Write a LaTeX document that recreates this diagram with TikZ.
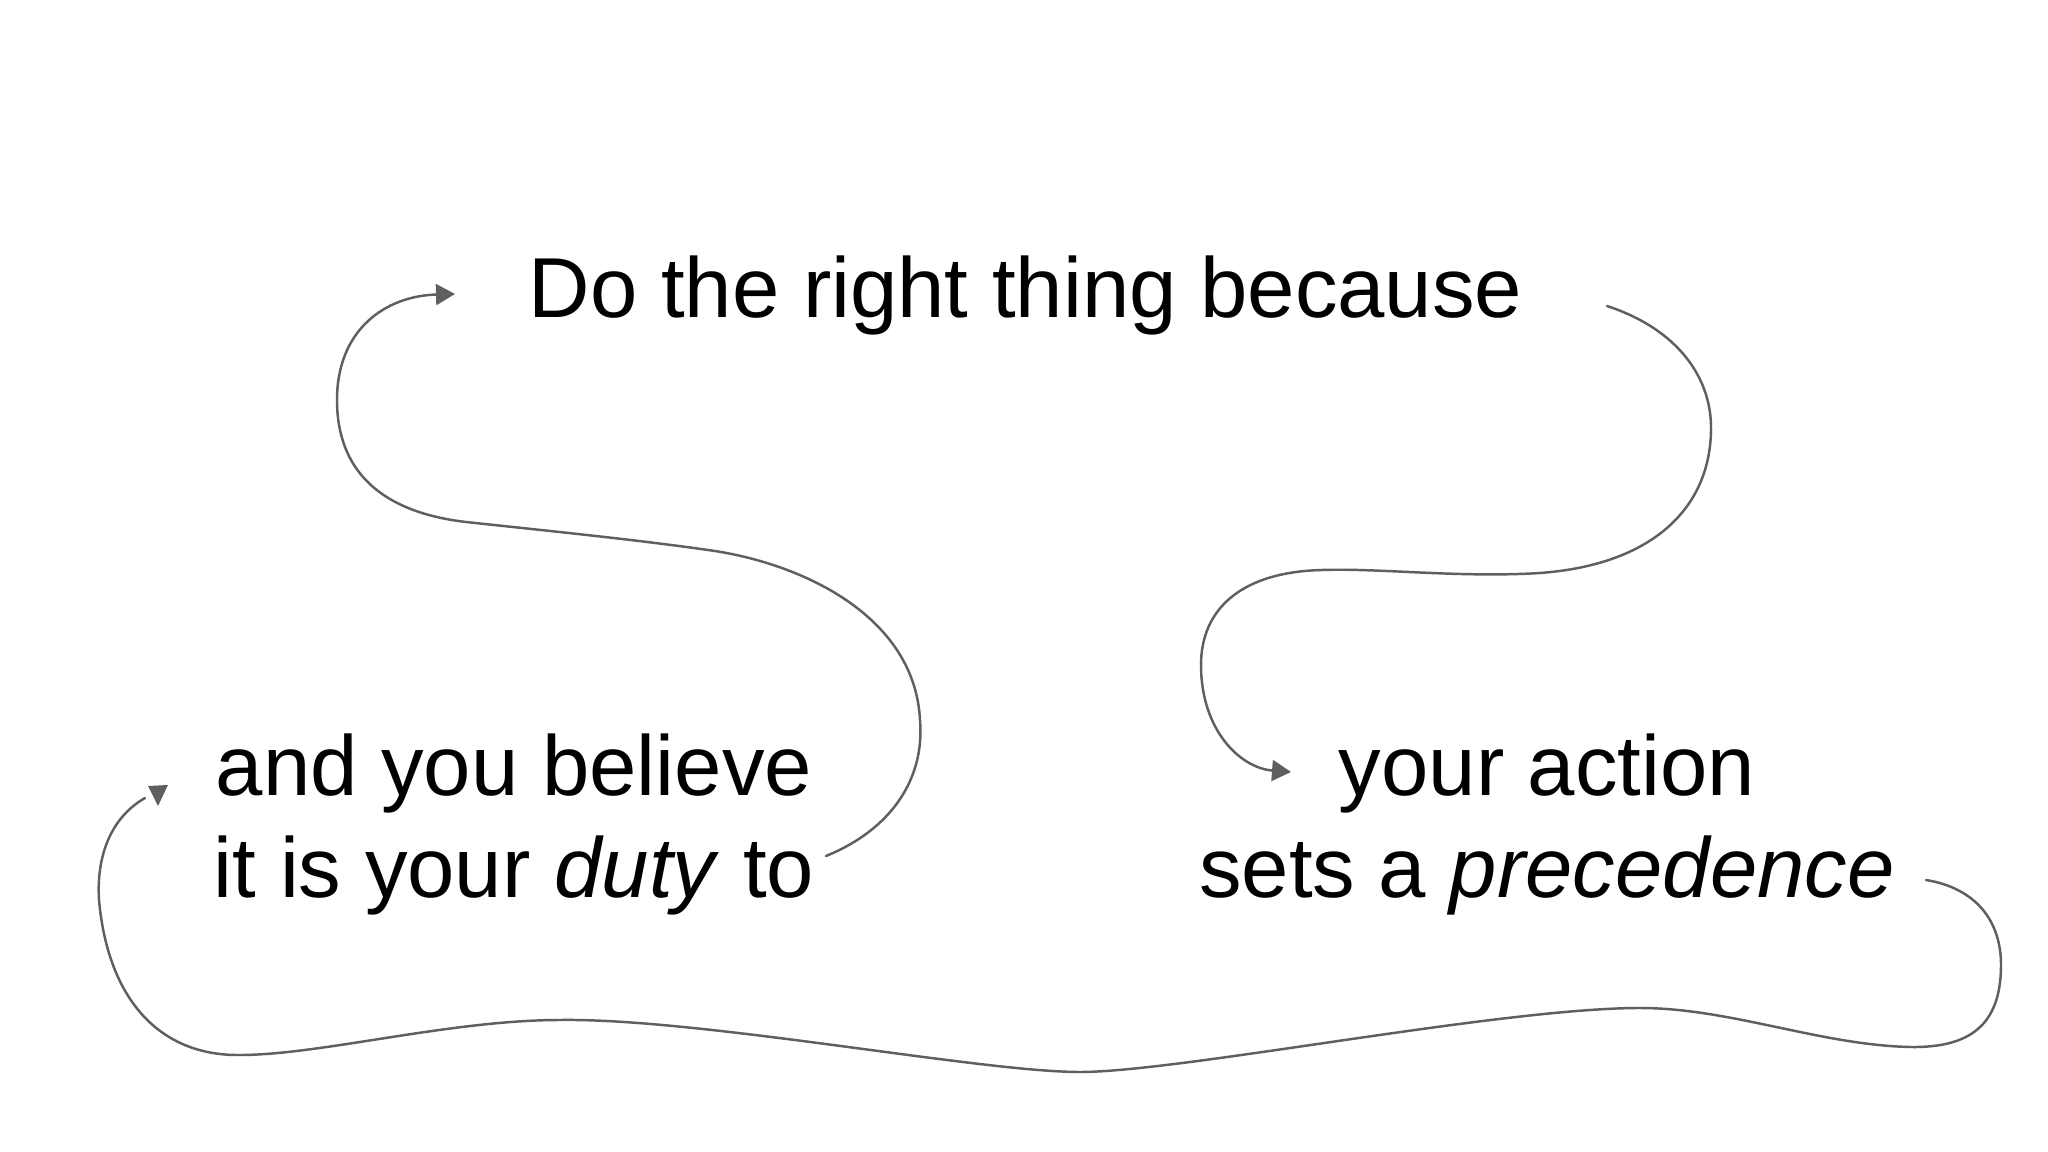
\documentclass[tikz,border=0pt]{standalone}
\usepackage{fontspec}
\setmainfont{Liberation Sans}
\usetikzlibrary{arrows.meta}
\definecolor{pencil}{RGB}{95,95,95}
\begin{document}
\begin{tikzpicture}[x=0.01cm,y=-0.01cm,
  txt/.style={font=\fontsize{24.2}{28.8}\selectfont, inner sep=0pt, align=center, text=black},
  link/.style={draw=pencil, line width=0.7pt, line cap=round},
  linktip/.style={link, -{Triangle[length=0.19cm,width=0.21cm]}},
  tipmark/.style={fill=pencil}]
\fill[white] (0,0) rectangle (2048,1152);
\useasboundingbox (0,0) rectangle (2048,1152);

% base anchor of a two-line node = baseline of its last line
\node[txt, anchor=base] (top) at (1025.5,317.5) {Do the right thing because};
\node[txt, anchor=base] (left) at (514,897) {and you believe\\ it is your \textit{duty} to};
\node[txt, anchor=base] (right) at (1547,897) {your action\\ sets a \textit{precedence}};

% connector ends
\coordinate (a1) at (826,856);
\coordinate (a2) at (455,294);
\coordinate (b1) at (1607,306);
\coordinate (b2) at (1291,772);
\coordinate (c1) at (1926,880);
\coordinate (c2) at (145,798);

% left text -> top text
\draw[linktip] (a1) .. controls (890,830) and (925,780) .. (920,720)
  .. controls (915,620) and (810,566) .. (715,551)
  .. controls (640,540) and (540,530) .. (466,522)
  .. controls (380,512) and (337,470) .. (337,400)
  .. controls (337,330) and (385,296) .. (a2);

% top text -> right text
\draw[linktip] (b1) .. controls (1680,330) and (1712,380) .. (1711,430)
  .. controls (1710,510) and (1650,565) .. (1540,573)
  .. controls (1460,578) and (1380,568) .. (1322,570)
  .. controls (1240,572) and (1201,610) .. (1201,665)
  .. controls (1201,730) and (1240,768) .. (b2);

% right text -> left text
\draw[link] (c1) .. controls (1975,888) and (2001,920) .. (2001,965)
  .. controls (2001,1025) and (1970,1048) .. (1910,1047)
  .. controls (1820,1045) and (1730,1008) .. (1640,1008)
  .. controls (1500,1008) and (1180,1072) .. (1080,1072)
  .. controls (980,1072) and (700,1018) .. (560,1020)
  .. controls (450,1020) and (320,1055) .. (240,1055)
  .. controls (160,1056) and (108,1000) .. (99,900)
  .. controls (96,850) and (115,815) .. (c2);
\fill[tipmark] (148,786) -- (168,785) -- (158,806) -- cycle;
\end{tikzpicture}
\end{document}
